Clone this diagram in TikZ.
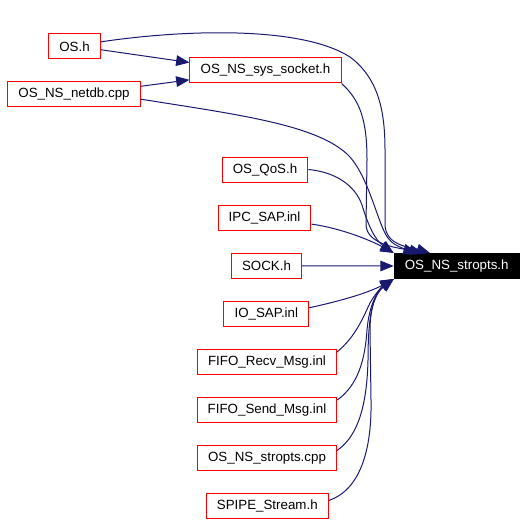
\documentclass[tikz,border=0pt]{standalone}
\usepackage{fontspec}
\setmainfont{Liberation Sans}
\usetikzlibrary{arrows.meta}
\definecolor{edgeblue}{RGB}{25,25,112}

\begin{document}
\begin{tikzpicture}[x=0.75pt,y=-0.75pt,
        file/.style={draw=red,line width=0.75pt,inner xsep=8pt,minimum height=18.75pt,font=\fontsize{10}{12}\selectfont},
        dep/.style={edgeblue,line width=0.75pt,-{Triangle[length=10pt,width=8pt]}}]
        \useasboundingbox (0,0) rectangle (527,524);
        % nodes
        \node[file] (os) at (74.5,46.5) {OS.h};
        \node[file] (syssock) at (265.5,70.5) {OS\_NS\_sys\_socket.h};
        \node[file] (netdb) at (74,94.5) {OS\_NS\_netdb.cpp};
        \node[file] (qos) at (265,169.5) {OS\_QoS.h};
        \node[file] (ipc) at (264.5,217.5) {IPC\_SAP.inl};
        \node[file] (sockh) at (266.5,265.8) {SOCK.h};
        \node[file,draw=black,fill=black,text=white] (stropts) at (456.7,266) {OS\_NS\_stropts.h};
        \node[file] (iosap) at (266.3,313.8) {IO\_SAP.inl};
        \node[file] (fiforecv) at (267,361.8) {FIFO\_Recv\_Msg.inl};
        \node[file] (fifosend) at (267,409.8) {FIFO\_Send\_Msg.inl};
        \node[file] (stroptscpp) at (267,457.8) {OS\_NS\_stropts.cpp};
        \node[file] (spipe) at (267.3,505.8) {SPIPE\_Stream.h};
        % edges to sys_socket
        \draw[dep] (os.-7) -- (syssock.174);
        \draw[dep] (netdb.7) -- (syssock.-173);
        % edges from above
        \draw[dep] (os.10) .. controls (180,30) and (300,25) .. (350,57)
            .. controls (378,78) and (385,110) .. (385,150) -- (385,225)
            .. controls (386,246) and (410,247) .. (stropts.154);
        \draw[dep] (syssock.south east) .. controls (360,100) and (367,120) .. (367,160)
            -- (366,225) .. controls (367,245) and (400,248) .. (stropts.162);
        \draw[dep] (netdb.-4) .. controls (240,115) and (320,125) .. (350,157)
            .. controls (370,180) and (378,225) .. (388,238)
            .. controls (395,248) and (410,250) .. (stropts.159);
        \draw[dep] (qos.east) .. controls (335,172) and (355,185) .. (362,205)
            .. controls (368,225) and (375,240) .. (stropts.north west);
        \draw[dep] (ipc.-8) .. controls (340,228) and (370,240) .. (stropts.north west);
        \draw[dep] (sockh.east) -- (stropts.west);
        % edges from below
        \draw[dep] (iosap.8) .. controls (345,300) and (370,292) .. (stropts.south west);
        \draw[dep] (fiforecv.8) .. controls (355,337) and (362,320) .. (370,303)
            .. controls (376,292) and (385,284) .. (stropts.south west);
        \draw[dep] (fifosend.8) .. controls (358,385) and (365,360) .. (367,330)
            .. controls (369,305) and (378,290) .. (stropts.south west);
        \draw[dep] (stroptscpp.6) .. controls (360,435) and (367,400) .. (368,360)
            .. controls (368,320) and (372,295) .. (stropts.south west);
        \draw[dep] (spipe.5) .. controls (360,490) and (372,450) .. (371,400) -- (370,330)
            .. controls (370,305) and (377,292) .. (stropts.south west);
    \end{tikzpicture}
\end{document}
